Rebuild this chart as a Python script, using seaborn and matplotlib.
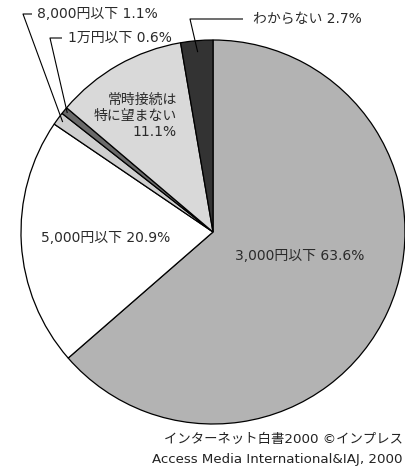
import numpy as np
import matplotlib
matplotlib.use("Agg")
import matplotlib.pyplot as plt
import seaborn as sns

sns.set_theme(style="white")
plt.rcParams["font.family"] = ["DejaVu Sans", "Noto Sans CJK JP"]

# Survey answers: acceptable monthly fee for always-on connection
categories = ["3,000円以下", "5,000円以下", "8,000円以下", "1万円以下",
              "常時接続は\n特に望まない", "わからない"]
shares = [63.6, 20.9, 1.1, 0.6, 11.1, 2.7]
slice_colors = ["#b3b3b3", "#ffffff", "#cfcfcf", "#6a6a6a", "#d9d9d9", "#333333"]

source_lines = ["インターネット白書2000 ©インプレス",
                "Access Media International&IAJ, 2000"]

W, H = 405, 470
fig = plt.figure(figsize=(W / 100, H / 100), dpi=100)
ax = fig.add_axes([0, 0, 1, 1])

cx, cy, R = 213, 232, 192


def Y(y):
    return H - y


wedges, _ = ax.pie(shares, colors=slice_colors, startangle=90, counterclock=False,
                   center=(cx, Y(cy)), radius=R,
                   wedgeprops=dict(edgecolor="black", linewidth=0.9))
ax.set_xlim(0, W)
ax.set_ylim(0, H)
ax.set_aspect("auto")
ax.axis("off")

txt = dict(color="#2a2a2a", fontsize=10)


def label(i):
    return f"{categories[i]} {shares[i]}%"


def mid_point(i, frac):
    w = wedges[i]
    ang = np.deg2rad((w.theta1 + w.theta2) / 2)
    return cx + frac * R * np.cos(ang), Y(cy) + frac * R * np.sin(ang)


# Labels drawn inside the large slices
ax.text(300, Y(256), label(0), ha="center", va="center", **txt)
ax.text(106, Y(238), label(1), ha="center", va="center", **txt)
ax.text(177, Y(116), f"{categories[4]}\n{shares[4]}%", ha="right", va="center",
        linespacing=1.15, **txt)

# Labels with leader lines for the thin slices
leaders = [
    (2, (37, 14), [(32, 14), (23, 14)], 0.97),
    (3, (68, 38), [(62, 38), (50, 38)], 0.98),
    (5, (253, 19), [(243, 19), (190, 19)], 0.94),
]
for i, (tx, ty), path, frac in leaders:
    ex, ey = mid_point(i, frac)
    xs = [p[0] for p in path] + [ex]
    ys = [Y(p[1]) for p in path] + [ey]
    ax.plot(xs, ys, color="black", linewidth=0.8, solid_capstyle="butt")
    ax.text(tx, Y(ty), label(i), ha="left", va="center", **txt)

# Source credit
ax.text(403, Y(440), source_lines[0], ha="right", va="center", color="#222222", fontsize=9.6)
ax.text(403, Y(459), source_lines[1], ha="right", va="center", color="#222222", fontsize=9.6)

fig.savefig("out.png", dpi=100, facecolor="white")
